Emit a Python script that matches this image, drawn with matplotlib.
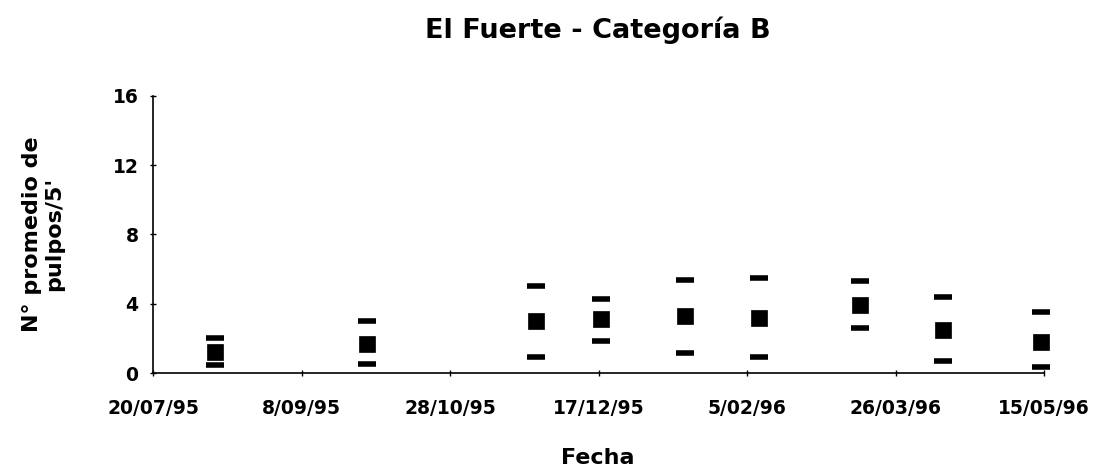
import numpy as np
import pandas as pd
import matplotlib
matplotlib.use('Agg')
import matplotlib.pyplot as plt

plt.rcParams['font.family'] = ['DejaVu Sans']
plt.rcParams['font.weight'] = 'bold'

# sampling dates and values
fechas = ['1995-08-10', '1995-09-30', '1995-11-26', '1995-12-18', '1996-01-15',
          '1996-02-09', '1996-03-14', '1996-04-11', '1996-05-14']
promedio = [1.2, 1.7, 3.0, 3.1, 3.3, 3.2, 3.9, 2.5, 1.8]
superior = [2.0, 3.0, 5.0, 4.3, 5.4, 5.5, 5.3, 4.4, 3.5]
inferior = [0.45, 0.5, 0.95, 1.85, 1.15, 0.9, 2.6, 0.7, 0.35]

tick_fechas = ['1995-07-20', '1995-09-08', '1995-10-28', '1995-12-17',
               '1996-02-05', '1996-03-26', '1996-05-15']
tick_labels = ['20/07/95', '8/09/95', '28/10/95', '17/12/95',
               '5/02/96', '26/03/96', '15/05/96']

x = pd.to_datetime(fechas)
xt = pd.to_datetime(tick_fechas)

fig = plt.figure(figsize=(10.97, 4.75), dpi=100)
ax = fig.add_axes([0.1395, 0.2147, 0.8122, 0.5833])

ax.plot(x, promedio, ls='none', marker='s', ms=11.5, color='black', mew=0.5, clip_on=False)
ax.plot(x, superior, ls='none', marker='_', ms=13, mew=4, color='black', clip_on=False)
ax.plot(x, inferior, ls='none', marker='_', ms=13, mew=4, color='black', clip_on=False)

ax.set_xlim(xt[0], xt[-1])
ax.set_ylim(0, 16)
ax.set_yticks([0, 4, 8, 12, 16])
ax.set_xticks(xt)
ax.set_xticklabels(tick_labels)

for s in ['top', 'right']:
    ax.spines[s].set_visible(False)
for s in ['left', 'bottom']:
    ax.spines[s].set_linewidth(1.2)

ax.tick_params(axis='x', direction='inout', length=5, width=1, pad=16, labelsize=13.5)
ax.tick_params(axis='y', direction='inout', length=5, width=1, pad=8, labelsize=13.5)

fig.text(0.545, 0.92, 'El Fuerte - Categoría B', fontsize=19.5, fontweight='bold',
         ha='center', va='baseline')
fig.text(0.545, 0.023, 'Fecha', fontsize=16, fontweight='bold', ha='center', va='baseline')
fig.text(0.039, 0.507, "N° promedio de\npulpos/5'", fontsize=16, fontweight='bold',
         ha='center', va='center', rotation=90, linespacing=1.15, multialignment='center')

plt.savefig('out.png', dpi=100)
plt.close()
